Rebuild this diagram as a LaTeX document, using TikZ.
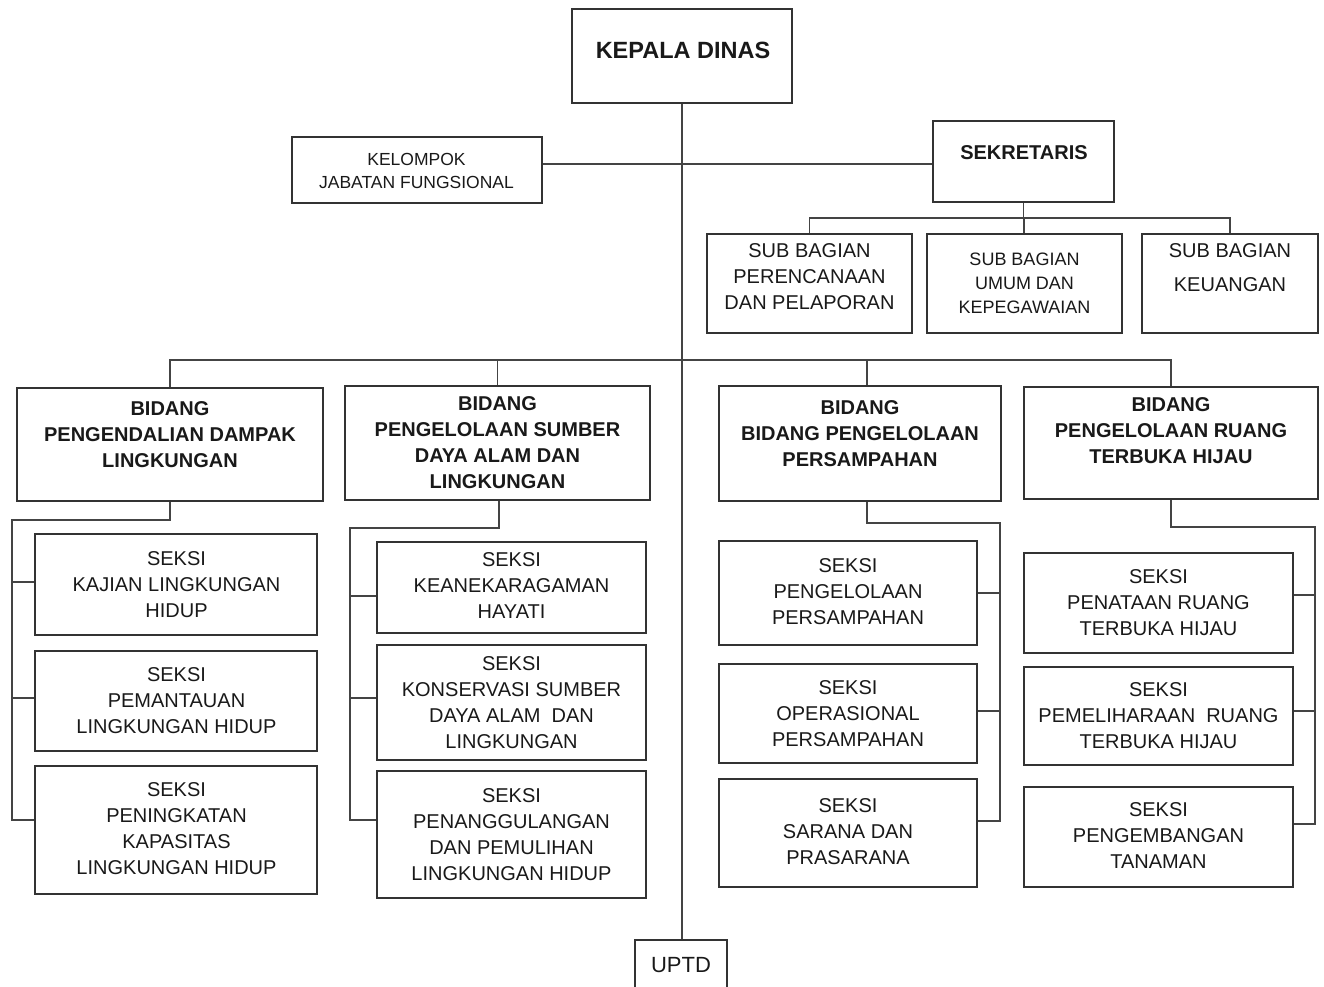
\documentclass[tikz,border=0pt]{standalone}
\usepackage{fontspec}
\setmainfont{Liberation Sans}
\usetikzlibrary{fit}
\definecolor{boxline}{HTML}{333333}
\definecolor{conline}{HTML}{444444}
\tikzset{
  box/.style={draw=boxline, line width=2pt, inner sep=0pt, fill=none},
  txt/.style={align=center, inner sep=0pt, text=black!90},
  reg/.style={txt, font=\fontsize{20}{26}\selectfont},
  bld/.style={txt, font=\fontsize{20}{26}\selectfont\bfseries},
  ln/.style={draw=conline, line width=1.8pt}
}
\begin{document}
\begin{tikzpicture}[x=1pt,y=-1pt]
\useasboundingbox (0,0) rectangle (1324,986);
% boxes
\node[box, fit={(572,9) (792,103)}] (kd) {};
\node[box, fit={(292,137) (542,203)}] (kjf) {};
\node[box, fit={(933,121) (1114,202)}] (sek) {};
\node[box, fit={(707,234) (912,333)}] (sb1) {};
\node[box, fit={(927,234) (1122,333)}] (sb2) {};
\node[box, fit={(1142,234) (1318,333)}] (sb3) {};
\node[box, fit={(17,388) (323,501)}] (bd1) {};
\node[box, fit={(345,386) (650,500)}] (bd2) {};
\node[box, fit={(719,386) (1001,501)}] (bd3) {};
\node[box, fit={(1024,387) (1318,499)}] (bd4) {};
\node[box, fit={(35,534) (317,635)}] (s11) {};
\node[box, fit={(35,651) (317,751)}] (s12) {};
\node[box, fit={(35,766) (317,894)}] (s13) {};
\node[box, fit={(377,542) (646,633)}] (s21) {};
\node[box, fit={(377,645) (646,760)}] (s22) {};
\node[box, fit={(377,771) (646,898)}] (s23) {};
\node[box, fit={(719,541) (977,645)}] (s31) {};
\node[box, fit={(719,664) (977,763)}] (s32) {};
\node[box, fit={(719,779) (977,887)}] (s33) {};
\node[box, fit={(1024,553) (1293,653)}] (s41) {};
\node[box, fit={(1024,667) (1293,765)}] (s42) {};
\node[box, fit={(1024,787) (1293,887)}] (s43) {};
\node[box, fit={(635,940) (727,1010)}] (uptd) {};
% texts
\node[txt, font=\fontsize{23.5}{28}\selectfont\bfseries] (kdt) at (683,50) {KEPALA DINAS};
\node[txt, font=\fontsize{17.5}{23}\selectfont] (kjft) at (416.5,170.5) {KELOMPOK\\JABATAN FUNGSIONAL};
\node[bld] (sekt) at (1024,153) {SEKRETARIS};
\node[reg] (sb1t) at (809.5,276.5) {SUB BAGIAN\\PERENCANAAN\\DAN PELAPORAN};
\node[txt, font=\fontsize{18}{24}\selectfont] (sb2t) at (1024.5,283.5) {SUB BAGIAN\\UMUM DAN\\KEPEGAWAIAN};
\node[txt, font=\fontsize{20}{34}\selectfont] (sb3t) at (1230,268) {SUB BAGIAN\\KEUANGAN};
\node[bld] (bd1t) at (170,434.5) {BIDANG\\PENGENDALIAN DAMPAK\\LINGKUNGAN};
\node[bld] (bd2t) at (497.5,443) {BIDANG\\PENGELOLAAN SUMBER\\DAYA ALAM DAN\\LINGKUNGAN};
\node[bld] (bd3t) at (860,433.5) {BIDANG\\BIDANG PENGELOLAAN\\PERSAMPAHAN};
\node[bld] (bd4t) at (1171,430.5) {BIDANG\\PENGELOLAAN RUANG\\TERBUKA HIJAU};
\node[reg] (s11t) at (176.5,584.5) {SEKSI\\KAJIAN LINGKUNGAN\\HIDUP};
\node[reg] (s12t) at (176.5,700.5) {SEKSI\\PEMANTAUAN\\LINGKUNGAN HIDUP};
\node[reg] (s13t) at (176.5,829) {SEKSI\\PENINGKATAN\\KAPASITAS\\LINGKUNGAN HIDUP};
\node[reg] (s21t) at (511.5,585.5) {SEKSI\\KEANEKARAGAMAN\\HAYATI};
\node[reg] (s22t) at (511.5,703) {SEKSI\\KONSERVASI SUMBER\\DAYA ALAM\ \ DAN\\LINGKUNGAN};
\node[reg] (s23t) at (511.5,834.5) {SEKSI\\PENANGGULANGAN\\DAN PEMULIHAN\\LINGKUNGAN HIDUP};
\node[reg] (s31t) at (848,592) {SEKSI\\PENGELOLAAN\\PERSAMPAHAN};
\node[reg] (s32t) at (848,714) {SEKSI\\OPERASIONAL\\PERSAMPAHAN};
\node[reg] (s33t) at (848,832) {SEKSI\\SARANA DAN\\PRASARANA};
\node[reg] (s41t) at (1158.5,603) {SEKSI\\PENATAAN RUANG\\TERBUKA HIJAU};
\node[reg] (s42t) at (1158.5,716) {SEKSI\\PEMELIHARAAN\ \ RUANG\\TERBUKA HIJAU};
\node[reg] (s43t) at (1158.5,836) {SEKSI\\PENGEMBANGAN\\TANAMAN};
\node[txt, font=\fontsize{22}{26}\selectfont] (uptdt) at (681,965) {UPTD};
% connector coordinates
\coordinate (hl) at (683,164);
\coordinate (sbus) at (1024,218);
\coordinate (mbus) at (683,360);
\coordinate (d3) at (867,360);
\coordinate (c1t) at (170,520);
\coordinate (c1l) at (12,520);
\coordinate (c1b) at (12,820);
\coordinate (b11) at (12,582);
\coordinate (b12) at (12,698);
\coordinate (c2t) at (499,528);
\coordinate (c2l) at (350,528);
\coordinate (c2b) at (350,820);
\coordinate (b21) at (350,596);
\coordinate (b22) at (350,698);
\coordinate (c3t) at (867,523);
\coordinate (c3r) at (1000,523);
\coordinate (c3b) at (1000,821);
\coordinate (b31) at (1000,593);
\coordinate (b32) at (1000,711);
\coordinate (c4t) at (1171,527);
\coordinate (c4r) at (1315,527);
\coordinate (c4b) at (1315,824);
\coordinate (b41) at (1315,595);
\coordinate (b42) at (1315,711);
% connectors
\draw[ln] (kd.south) -- (kd.south |- uptd.north);
\draw[ln] (kjf.east |- hl) -- (sek.west |- hl);
\draw[ln] (sek.south) -- (sek.south |- sbus);
\draw[ln] (sb1.north) -- (sb1.north |- sbus) -- (sb3.north |- sbus) -- (sb3.north);
\draw[ln] (sbus) -- (sbus |- sb2.north);
\draw[ln] (bd1.north) -- (bd1.north |- mbus) -- (bd4.north |- mbus) -- (bd4.north);
\draw[ln] (bd2.north) -- (bd2.north |- mbus);
\draw[ln] (d3) -- (d3 |- bd3.north);
% column 1
\draw[ln] (bd1.south) -- (c1t) -- (c1l) -- (c1b) -- (c1b -| s13.west);
\draw[ln] (b11) -- (b11 -| s11.west);
\draw[ln] (b12) -- (b12 -| s12.west);
% column 2
\draw[ln] (c2t |- bd2.south) -- (c2t) -- (c2l) -- (c2b) -- (c2b -| s23.west);
\draw[ln] (b21) -- (b21 -| s21.west);
\draw[ln] (b22) -- (b22 -| s22.west);
% column 3
\draw[ln] (c3t |- bd3.south) -- (c3t) -- (c3r) -- (c3b) -- (c3b -| s33.east);
\draw[ln] (b31) -- (b31 -| s31.east);
\draw[ln] (b32) -- (b32 -| s32.east);
% column 4
\draw[ln] (bd4.south) -- (bd4.south |- c4t) -- (c4r) -- (c4b) -- (c4b -| s43.east);
\draw[ln] (b41) -- (b41 -| s41.east);
\draw[ln] (b42) -- (b42 -| s42.east);
\end{tikzpicture}
\end{document}
